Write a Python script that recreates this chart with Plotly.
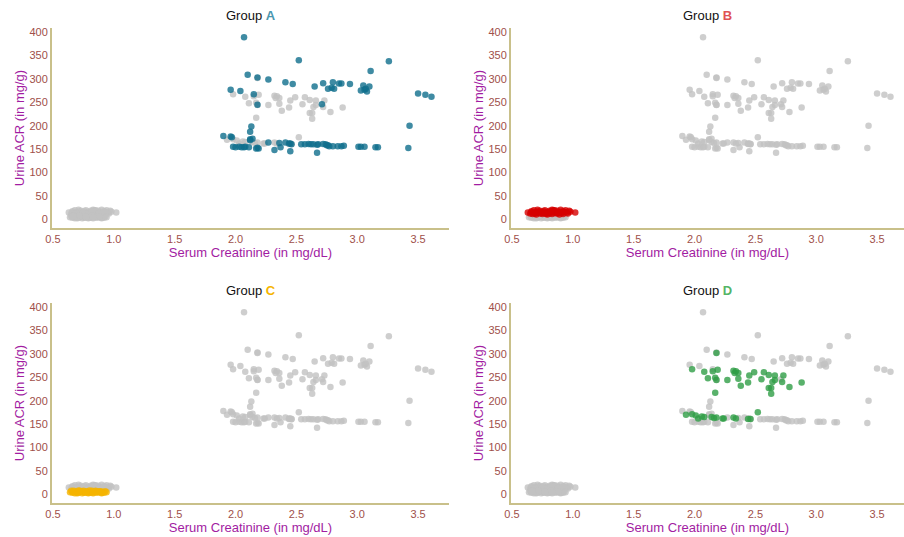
import plotly.graph_objects as go
from plotly.subplots import make_subplots

# ---------------- data ----------------
A_x = [2.07, 2.52, 3.26, 3.11, 2.10, 2.18, 2.27, 2.41, 2.47, 2.65, 2.72, 2.76, 2.80, 2.85, 2.87,
       2.94, 2.79, 2.81, 3.05, 3.10, 3.03, 3.06, 3.08, 3.07, 1.96, 2.04, 2.15, 2.18, 2.71, 3.50,
       3.56, 3.61, 3.43, 2.13, 2.12,
       1.90, 1.96, 1.97, 2.12, 2.14, 2.12,
       1.98, 2.00, 2.03, 2.05, 2.07, 2.08, 2.11, 2.17, 2.19, 2.18,
       2.27, 2.32, 2.37, 2.36, 2.41, 2.44, 2.46, 2.45, 2.45,
       2.54, 2.57, 2.60, 2.62, 2.64, 2.67, 2.67, 2.68, 2.74, 2.76,
       2.72, 2.75, 2.77, 2.80, 2.84, 2.87, 2.89,
       3.01, 3.03, 3.06, 3.15, 3.17, 3.42]
A_y = [389, 340, 338, 317, 309, 303, 299, 293, 289, 284, 291, 279, 293, 290, 290,
       289, 281, 279, 286, 284, 275, 277, 273, 279, 277, 274, 267, 245, 246, 269,
       266, 262, 200, 198, 187,
       178, 177, 175, 171, 172, 169,
       155, 154, 155, 154, 154, 155, 154, 151, 151, 153,
       164, 148, 154, 163, 164, 162, 160, 145, 162,
       160, 160, 161, 160, 160, 159, 142, 160, 160, 158,
       161, 158, 156, 156, 156, 156, 157,
       155, 155, 155, 154, 154, 152]

B_x = [0.63, 0.65, 0.66, 0.67, 0.68, 0.69, 0.70, 0.70, 0.71, 0.72,
       0.73, 0.73, 0.74, 0.75, 0.76, 0.76, 0.77, 0.78, 0.79, 0.79,
       0.80, 0.81, 0.81, 0.82, 0.83, 0.83, 0.84, 0.85, 0.85, 0.86,
       0.87, 0.87, 0.88, 0.89, 0.89, 0.90, 0.91, 0.92, 0.92, 0.93,
       0.94, 0.95, 0.96, 0.97, 0.98, 1.02,
       0.66, 0.72, 0.78, 0.84, 0.88, 0.93, 0.69, 0.75, 0.82]
B_y = [14, 12, 17, 11, 19, 13, 16, 10, 20, 14,
       12, 18, 15, 11, 17, 13, 19, 12, 16, 10,
       14, 18, 12, 15, 20, 11, 17, 13, 19, 15,
       12, 18, 14, 10, 16, 20, 13, 17, 11, 15,
       19, 14, 12, 18, 16, 14,
       15, 16, 12, 19, 13, 15, 12, 14, 17]

C_x = [0.64, 0.65, 0.66, 0.67, 0.68, 0.69, 0.70, 0.71, 0.71, 0.72,
       0.73, 0.74, 0.75, 0.75, 0.76, 0.77, 0.78, 0.79, 0.80, 0.80,
       0.81, 0.82, 0.83, 0.84, 0.84, 0.85, 0.86, 0.87, 0.88, 0.89,
       0.90, 0.91, 0.92, 0.93, 0.94,
       0.67, 0.70, 0.74, 0.78, 0.82, 0.86, 0.90, 0.66, 0.72, 0.77, 0.83, 0.88]
C_y = [4, 7, 3, 5, 2, 6, 4, 8, 3, 5,
       6, 2, 4, 7, 3, 5, 6, 2, 4, 8,
       3, 5, 2, 6, 4, 7, 3, 5, 4, 6,
       2, 5, 3, 6, 4,
       7, 2, 6, 3, 7, 5, 3, 5, 7, 5, 4, 6]

D_x = [2.18, 1.98, 2.08, 2.15, 2.19, 2.11, 2.17, 2.18, 2.27, 2.17,
       2.32, 2.34, 2.33, 2.36, 2.36, 2.38, 2.44, 2.45, 2.49, 2.57,
       2.61, 2.55, 2.66, 2.64, 2.66, 2.61, 2.63, 2.63, 2.73, 2.72,
       2.78, 2.88,
       1.93, 1.98, 2.01, 2.03, 2.06, 2.08, 2.14, 2.16, 2.18, 2.23,
       2.24, 2.32, 2.34, 2.44, 2.46, 2.52]
D_y = [302, 267, 262, 263, 266, 248, 249, 244, 244, 217,
       264, 263, 259, 259, 247, 232, 239, 254, 261, 261,
       255, 246, 254, 240, 244, 227, 227, 215, 254, 240,
       229, 239,
       170, 171, 168, 162, 166, 165, 165, 163, 164, 162,
       162, 164, 162, 161, 161, 175]

groups = ["A", "B", "C", "D"]
data = {"A": (A_x, A_y), "B": (B_x, B_y), "C": (C_x, C_y), "D": (D_x, D_y)}
for g in groups:
    assert len(data[g][0]) == len(data[g][1]), g

x_ticks = [0.5, 1.0, 1.5, 2.0, 2.5, 3.0, 3.5]
y_ticks = [0, 50, 100, 150, 200, 250, 300, 350, 400]

# ---------------- style ----------------
COL = {"A": "#0f6e8c", "B": "#d60000", "C": "#f5b400", "D": "#2f9e46"}
TITLE_COL = {"A": "#4b97b0", "B": "#e05252", "C": "#f5b400", "D": "#55b566"}
GRAY = "#c2c2c2"
TICK = "#a0504a"
PURPLE = "#a21ca2"
AXLINE = "#c9c08a"
FONT = "Liberation Sans, Arial, sans-serif"

W, H = 904, 537
xdom = {1: [52 / W, 449 / W], 2: [511 / W, 1.0]}
ydom = {1: [1 - 228 / H, 1 - 28 / H], 2: [1 - 503 / H, 1 - 303 / H]}
xrng = {1: [0.492, 0.492 + 397 / 121.7], 2: [0.492, 0.492 + 393 / 121.7]}
pos = {"A": (1, 1), "B": (1, 2), "C": (2, 1), "D": (2, 2)}

fig = make_subplots(rows=2, cols=2)

for g in groups:
    r, c = pos[g]
    ox = [x for h in groups if h != g for x in data[h][0]]
    oy = [y for h in groups if h != g for y in data[h][1]]
    fig.add_trace(go.Scatter(x=ox, y=oy, mode="markers", showlegend=False, hoverinfo="skip",
                             marker=dict(color=GRAY, size=6.5, opacity=0.8, line_width=0)),
                  row=r, col=c)
    fig.add_trace(go.Scatter(x=data[g][0], y=data[g][1], mode="markers", showlegend=False,
                             name="Group " + g,
                             marker=dict(color=COL[g], size=6.5, opacity=0.8, line_width=0)),
                  row=r, col=c)
    fig.update_xaxes(domain=xdom[c], range=xrng[c], row=r, col=c)
    fig.update_yaxes(domain=ydom[r], range=[-19, 409], row=r, col=c)
    fig.add_annotation(text=f"Group <b style='color:{TITLE_COL[g]}'>{g}</b>",
                       xref="paper", yref="paper",
                       x=(xdom[c][0] + xdom[c][1]) / 2, y=ydom[r][1],
                       xanchor="center", yanchor="bottom", yshift=3, showarrow=False,
                       font=dict(size=13, color="#111111", family=FONT))

fig.update_xaxes(showgrid=False, zeroline=False, showline=True, linecolor=AXLINE, linewidth=2,
                 ticks="", tickvals=x_ticks, ticktext=[f"{v:.1f}" for v in x_ticks],
                 tickfont=dict(color=TICK, size=11, family=FONT), automargin=False,
                 title=dict(text="Serum Creatinine (in mg/dL)", standoff=4,
                            font=dict(color=PURPLE, size=13, family=FONT)))
fig.update_yaxes(showgrid=False, zeroline=False, showline=True, linecolor=AXLINE, linewidth=2,
                 ticks="", tickvals=y_ticks, ticktext=[str(v) for v in y_ticks],
                 tickfont=dict(color=TICK, size=11, family=FONT), automargin=False,
                 title=dict(text="Urine ACR (in mg/g)", standoff=2,
                            font=dict(color=PURPLE, size=13, family=FONT)))

fig.update_layout(width=W, height=H, margin=dict(l=0, r=0, t=0, b=0),
                  plot_bgcolor="white", paper_bgcolor="white",
                  font=dict(family=FONT))

fig.write_html("out.html")
